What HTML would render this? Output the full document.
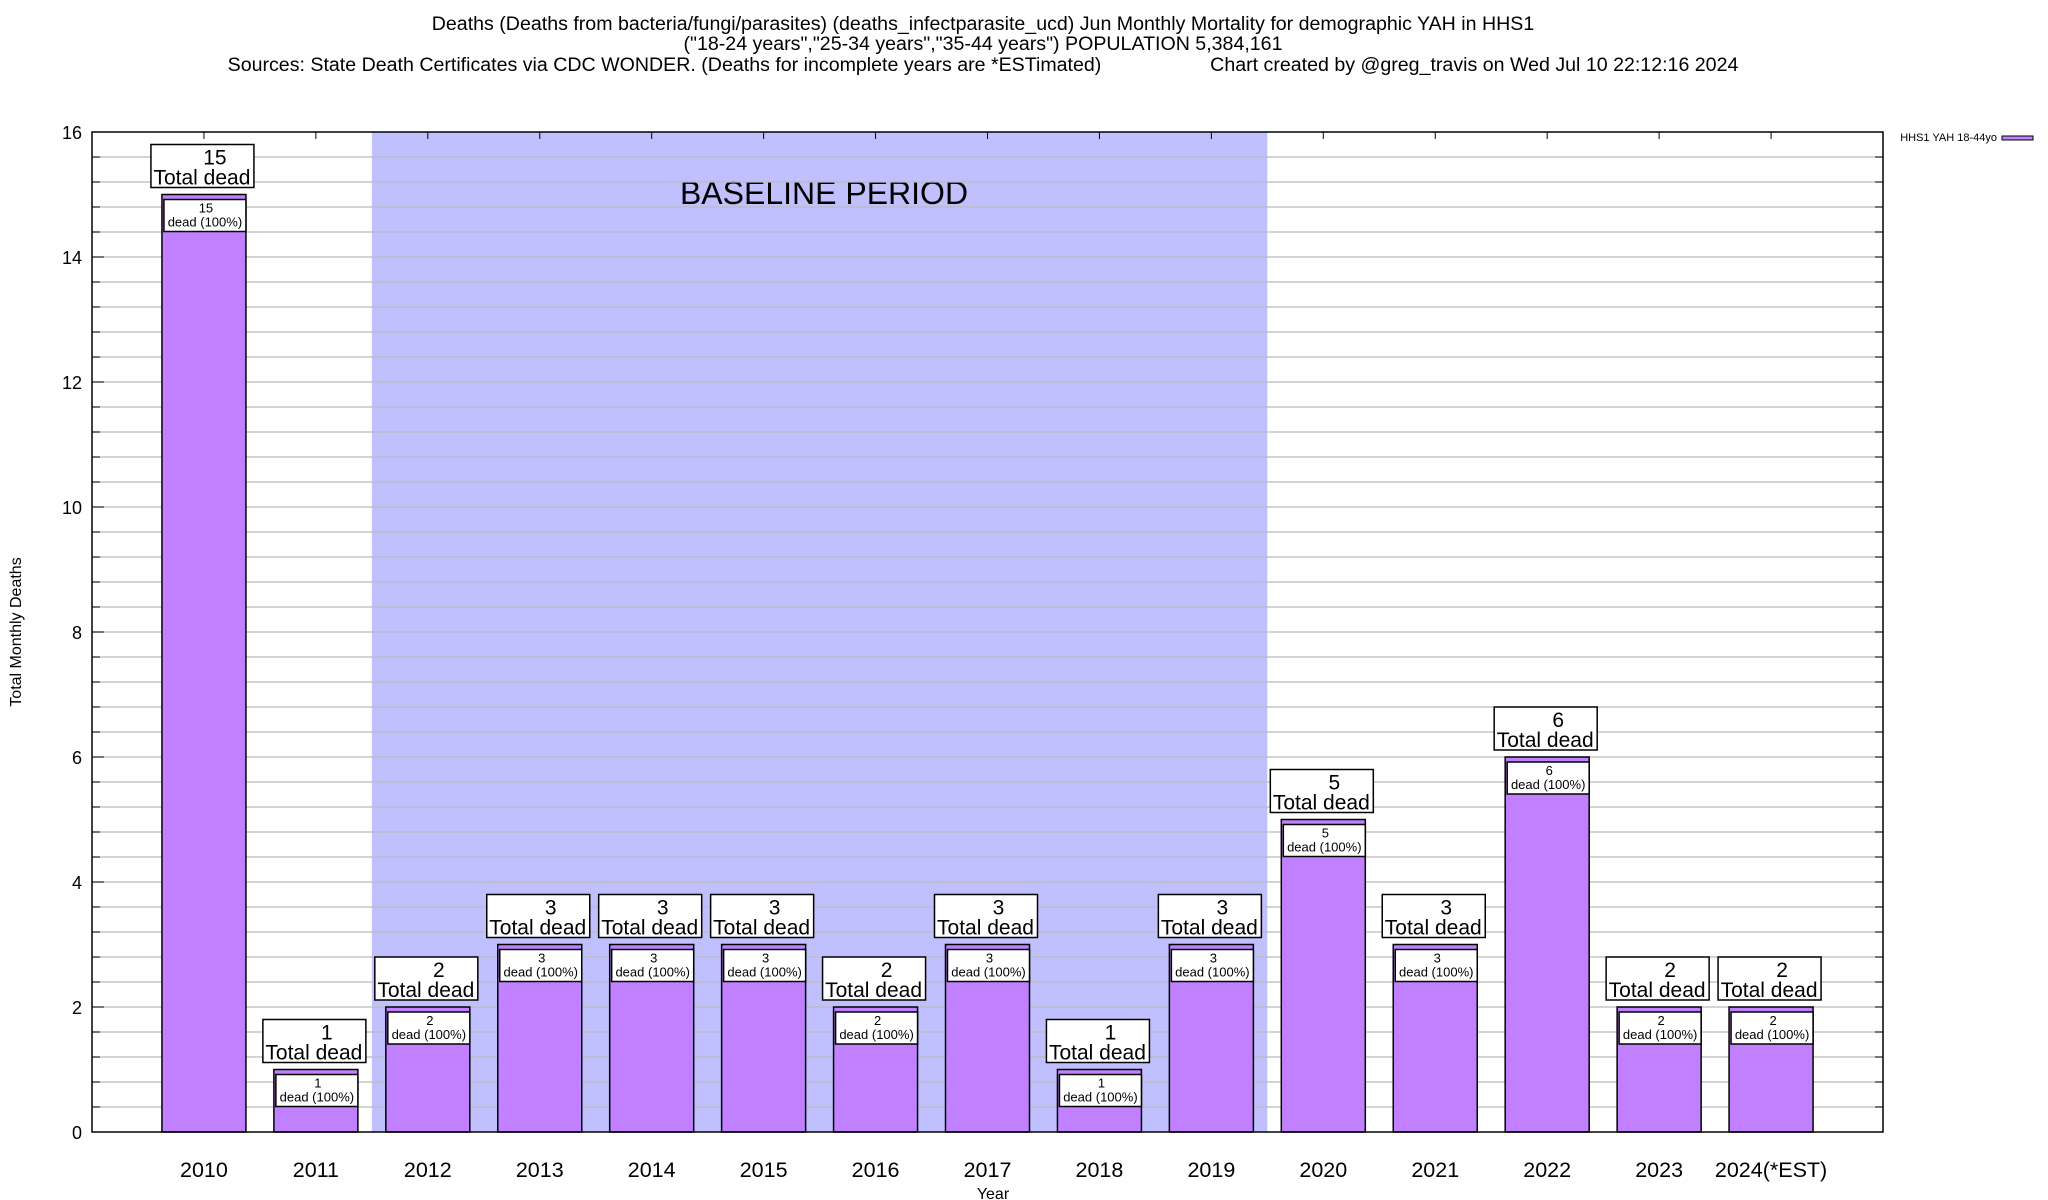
<!DOCTYPE html>
<html><head><meta charset="utf-8">
<style>
html,body{margin:0;padding:0;background:#fff;}
svg{display:block;font-family:"Liberation Sans",sans-serif;}
</style></head>
<body>
<svg id="chart" width="2048" height="1200" viewBox="0 0 2048 1200" xmlns="http://www.w3.org/2000/svg">
<g font-size="19.6" text-anchor="middle" fill="#000">
<text x="983" y="30">Deaths (Deaths from bacteria/fungi/parasites) (deaths_infectparasite_ucd) Jun Monthly Mortality for demographic YAH in HHS1</text>
<text x="983" y="50">("18-24 years","25-34 years","35-44 years") POPULATION 5,384,161</text>
<text x="983" y="71" xml:space="preserve">Sources: State Death Certificates via CDC WONDER. (Deaths for incomplete years are *ESTimated)                    Chart created by @greg_travis on Wed Jul 10 22:12:16 2024</text>
</g>
<g id="plot"></g>
<text x="21" y="632" font-size="16" text-anchor="middle" transform="rotate(-90 21 632)">Total Monthly Deaths</text>
<text x="993" y="1199" font-size="16" text-anchor="middle">Year</text>
<g>
<text x="1997" y="141" font-size="11" text-anchor="end">HHS1 YAH 18-44yo</text>
<rect x="2002" y="136" width="31" height="4" fill="#c080ff" stroke="#000" stroke-width="1"/>
</g>
</svg>
<script>
const categories = ["2010","2011","2012","2013","2014","2015","2016","2017","2018","2019","2020","2021","2022","2023","2024(*EST)"];
const deaths = [15,1,2,3,3,3,2,3,1,3,5,3,6,2,2];
const yTicks = [0,2,4,6,8,10,12,14,16];
const baselineRange = ["2012","2019"];

const L=92,R=1883,T=132,B=1132,YMAX=16,XMIN=-1,XMAX=15;
const NS="http://www.w3.org/2000/svg";
const plot=document.getElementById('plot');
function X(i){return L+(i-XMIN)/(XMAX-XMIN)*(R-L);}
function Y(v){return B-v/YMAX*(B-T);}
function el(tag,attrs,parent){const e=document.createElementNS(NS,tag);for(const k in attrs)e.setAttribute(k,attrs[k]);(parent||plot).appendChild(e);return e;}
const step=X(1)-X(0);

const bi0=categories.indexOf(baselineRange[0]), bi1=categories.indexOf(baselineRange[1]);
const shade=el('rect',{x:X(bi0)-step/2,y:T,width:X(bi1)-X(bi0)+step,height:B-T,fill:'#c0c0ff'});


const bt=el('text',{x:824,y:204,'font-size':32,'text-anchor':'middle'});
bt.textContent='BASELINE PERIOD';



for(let k=1;k<40;k++){
  const v=k*0.4, y=Y(v);
  const g=el('line',{x1:L,x2:R,y1:y,y2:y,stroke:'#bbbbbb','stroke-width':1.3});
  
  
  el('line',{x1:L,x2:L+8,y1:y,y2:y,stroke:'#000'});
  el('line',{x1:R-8,x2:R,y1:y,y2:y,stroke:'#000'});
}
yTicks.forEach(v=>{
  const t=el('text',{x:82,y:Y(v)+7,'font-size':18,'text-anchor':'end'});
  t.textContent=v;
  
  
  el('line',{x1:L,x2:L+12,y1:Y(v),y2:Y(v),stroke:'#000'});
});

categories.forEach((c,i)=>{
  const cx=X(i), v=deaths[i], top=Y(v), hw=42;
  const b=el('rect',{x:cx-hw,y:top,width:2*hw,height:B-top,fill:'#c080ff',stroke:'#000','stroke-width':1.5});
  
  
  const ib=el('rect',{x:cx-hw+2,y:top+5,width:2*hw-2,height:32,fill:'#fff',stroke:'#000','stroke-width':1.5});
  
  
  const it1=el('text',{x:cx+2,y:top+18,'font-size':13,'text-anchor':'middle'});
  it1.textContent=v;
  
  
  const it2=el('text',{x:cx+1,y:top+32,'font-size':13,'text-anchor':'middle'});
  it2.textContent='dead (100%)';
  
  
  const ob=el('rect',{x:cx-53,y:top-50,width:103,height:43,fill:'#fff',stroke:'#000','stroke-width':1.5});
  
  
  const ot1=el('text',{x:cx+11,y:top-30,'font-size':21,'text-anchor':'middle'});
  ot1.textContent=v;
  
  
  const ot2=el('text',{x:cx-2,y:top-10,'font-size':21,'text-anchor':'middle'});
  ot2.textContent='Total dead';
  
  
  const xl=el('text',{x:cx,y:1177,'font-size':21.5,'text-anchor':'middle'});
  xl.textContent=c;
  
  
  el('line',{x1:cx,x2:cx,y1:T,y2:T+7,stroke:'#000'});
});
const fr=el('rect',{x:L,y:T,width:R-L,height:B-T,fill:'none',stroke:'#000','stroke-width':1.5});


</script>
</body></html>
